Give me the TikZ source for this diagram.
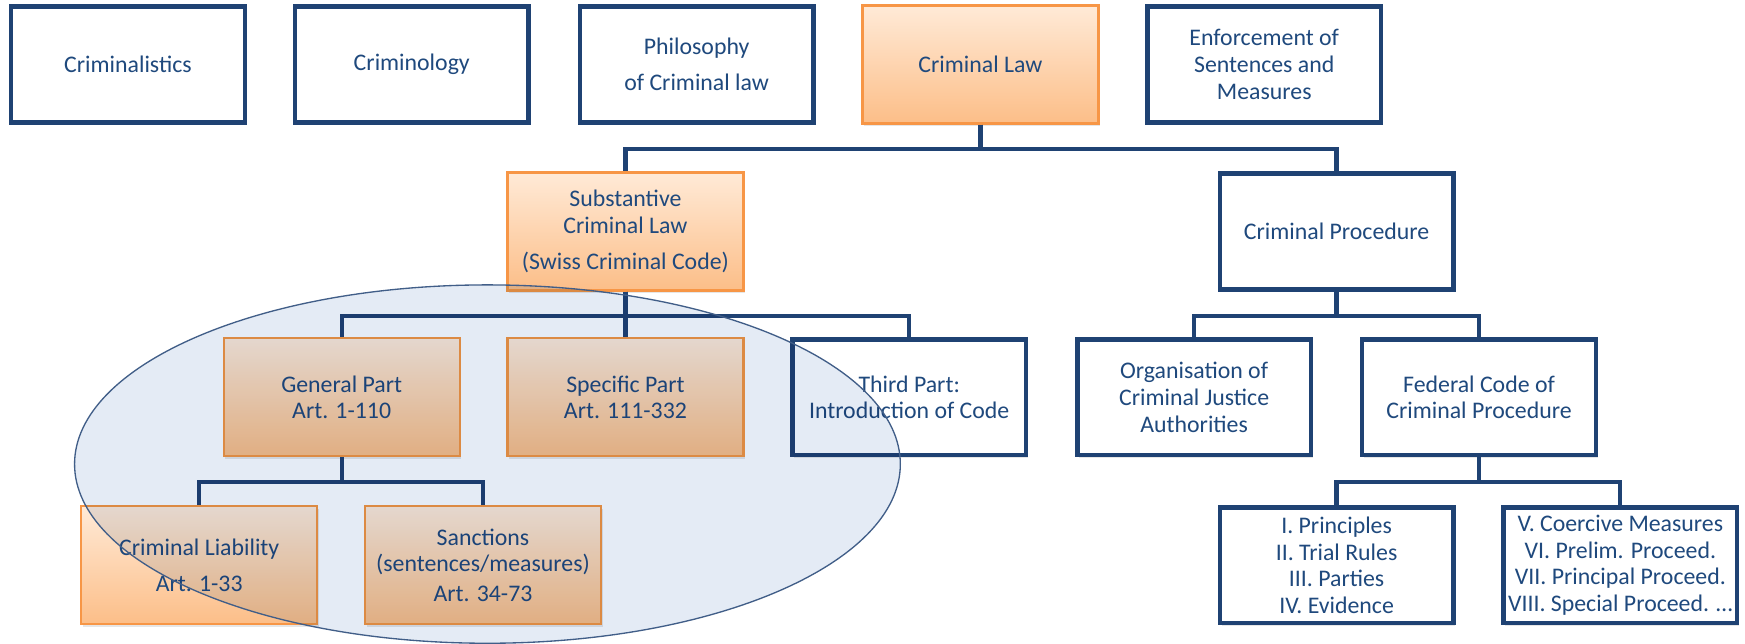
\documentclass[tikz,border=0pt]{standalone}
\usepackage{fontspec}
\setmainfont{Carlito}
\usetikzlibrary{shadows}
\definecolor{navy}{RGB}{31,66,115}
\definecolor{txtblue}{RGB}{31,73,125}
\definecolor{orangetop}{RGB}{255,234,215}
\definecolor{orangebot}{RGB}{252,190,136}
\definecolor{orangeline}{RGB}{247,150,70}
\definecolor{ellfill}{RGB}{228,235,245}

\begin{document}
\begin{tikzpicture}[x=0.5pt,y=-0.5pt]
\tikzset{field/.style = {shape=rectangle,draw=navy,line width=2pt,fill=white,text=txtblue,align=center,minimum width=105pt,minimum height=52pt,inner sep=2pt,font=\fontsize{10.7}{12}\selectfont,drop shadow={opacity=0.2,shadow xshift=0.8pt,shadow yshift=-1.2pt}}}
\tikzset{core/.style = {field,draw=orangeline,line width=1pt,top color=orangetop,bottom color=orangebot,minimum width=106pt,minimum height=53pt}}
\tikzset{link/.style = {draw=navy,line width=1.9pt}}
\useasboundingbox (0,0) rectangle (1568,578);
% vertices
\node[field] (crimtech) at (115,58) {Criminalistics};
\node[field] (crimlgy) at (370,58) {Criminology};
\node[field] (philo) at (626,58) {Philosophy\\[4pt]of Criminal law};
\node[core] (crimlaw) at (881,58) {Criminal Law};
\node[field] (enforce) at (1136,58) {Enforcement of\\Sentences and\\Measures};

\node[core] (subst) at (562,208) {Substantive\\Criminal Law\\[4pt](Swiss Criminal Code)};
\node[field] (proc) at (1201,208) {Criminal Procedure};

\node[core] (general) at (307,357) {General Part\\Art. 1-110};
\node[core] (specific) at (562,357) {Specific Part\\Art. 111-332};
\node[field] (third) at (817,357) {Third Part:\\Introduction of Code};
\node[field] (org) at (1073,357) {Organisation of\\Criminal Justice\\Authorities};
\node[field] (fedcode) at (1329,357) {Federal Code of\\Criminal Procedure};

\node[core] (liab) at (179,508) {Criminal Liability\\[4pt]Art. 1-33};
\node[core] (sanct) at (434,508) {Sanctions\\(sentences/measures)\\[1.5pt]Art. 34-73};
\node[field] (principles) at (1201,508) {I. Principles\\II. Trial Rules\\III. Parties\\IV. Evidence};
\node[field] (coercive) at (1456,508) {V. Coercive Measures\\VI. Prelim. Proceed.\\VII. Principal Proceed.\\VIII. Special Proceed. \dots};

%edges
\draw[link] (crimlaw.south) -- ++(0,22) -| (subst.north);
\draw[link] (crimlaw.south) -- ++(0,22) -| (proc.north);

\draw[link] (subst.south) -- ++(0,22) -| (general.north);
\draw[link] (subst.south) -- (specific.north);
\draw[link] (subst.south) -- ++(0,22) -| (third.north);

\draw[link] (general.south) -- ++(0,22) -| (liab.north);
\draw[link] (general.south) -- ++(0,22) -| (sanct.north);

\draw[link] (proc.south) -- ++(0,22) -| (org.north);
\draw[link] (proc.south) -- ++(0,22) -| (fedcode.north);

\draw[link] (fedcode.south) -- ++(0,22) -| (principles.north);
\draw[link] (fedcode.south) -- ++(0,22) -| (coercive.north);

% scope of the code
\fill[ellfill,blend mode=multiply] (438,417) ellipse [x radius=185.5pt, y radius=80.5pt];
\draw[navy!85,line width=0.6pt] (438,417) ellipse [x radius=185.5pt, y radius=80.5pt];
\end{tikzpicture}
\end{document}
